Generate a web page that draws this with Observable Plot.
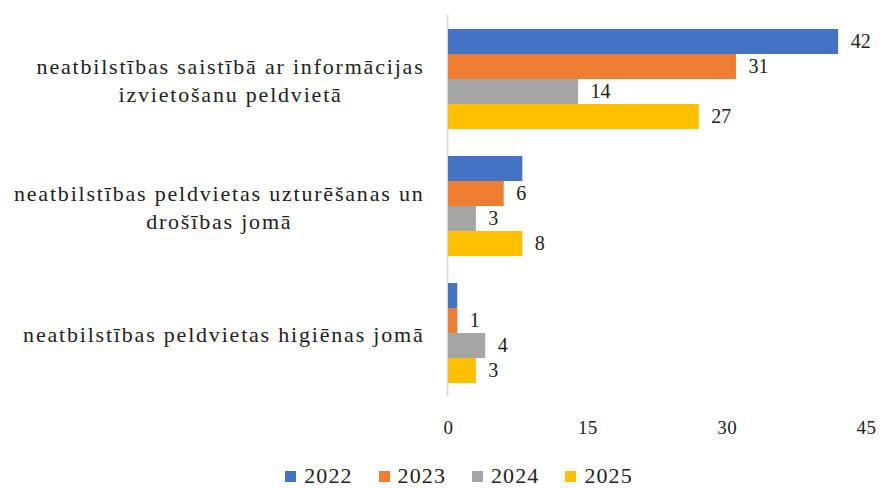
<!DOCTYPE html>
<html><head><meta charset="utf-8">
<script src="https://cdn.jsdelivr.net/npm/d3@7"></script>
<script src="https://cdn.jsdelivr.net/npm/@observablehq/plot@0.6"></script>
<style>
html,body{margin:0;background:#fff;overflow:hidden;font-family:"Liberation Serif","Times New Roman",serif;}
#chart{width:880px;}
#chart svg text, #chart svg tspan{font-family:"Liberation Serif","Times New Roman",serif !important;}
#legend{width:880px;box-sizing:border-box;padding-left:38px;margin-top:18px;height:36px;display:flex;justify-content:center;align-items:center;column-gap:26px;font-size:22px;color:#222;letter-spacing:1.1px;line-height:20px;}
#legend .item{display:flex;align-items:center;white-space:nowrap;line-height:20px;}
#legend .sw{display:inline-block;width:11px;height:11px;margin-right:8px;}
g[aria-label="fy-axis tick label"]{letter-spacing:1.8px;}
g[aria-label="x-axis tick label"]{letter-spacing:0.4px;}
</style></head><body><div id="chart"></div><div id="legend"></div>
<script>
const categories = [
  "neatbilstības saistībā ar informācijas izvietošanu peldvietā",
  "neatbilstības peldvietas uzturēšanas un drošības jomā",
  "neatbilstības peldvietas higiēnas jomā"
];
const categoryLabels = [
  "neatbilstības saistībā ar informācijas\nizvietošanu peldvietā",
  "neatbilstības peldvietas uzturēšanas un\ndrošības jomā",
  "neatbilstības peldvietas higiēnas jomā"
];
const years = ["2022", "2023", "2024", "2025"];
const values2022 = [42, 8, 1];
const values2023 = [31, 6, 1];
const values2024 = [14, 3, 4];
const values2025 = [27, 8, 3];
const colors = ["#4472C4", "#ED7D31", "#A5A5A5", "#FFC000"];
const xTicks = [0, 15, 30, 45];
// data labels not shown in the reference
const unlabeled = [["2022", categories[1]], ["2022", categories[2]]];

const series = [values2022, values2023, values2024, values2025];
const data = categories.flatMap((c, i) => years.map((y, j) => ({category: c, year: y, value: series[j][i]})));
const labelData = data.filter(d => !unlabeled.some(([y, c]) => y === d.year && c === d.category));
const FONT = "Liberation Serif";

const plot = Plot.plot({
  width: 880, height: 440,
  marginTop: 14, marginBottom: 44, marginLeft: 448, marginRight: 14,
  style: {fontFamily: FONT, background: "#fff", color: "#222"},
  x: {domain: [0, 45]},
  y: {domain: years, axis: null, paddingInner: 0, paddingOuter: 0.45},
  fy: {domain: categories, padding: 0},
  color: {domain: years, range: colors},
  marks: [
    Plot.ruleX([0], {stroke: "#d9d9d9", strokeWidth: 2, dx: -1}),
    Plot.barX(data, {x: "value", y: "year", fy: "category", fill: "year"}),
    Plot.text(labelData, {x: "value", y: "year", fy: "category", text: d => String(d.value), textAnchor: "start", dx: 12, fontSize: 20, fontFamily: FONT, fill: "#222"}),
    Plot.axisX({ticks: xTicks, tickSize: 0, tickPadding: 24, fontSize: 19, fontFamily: FONT, label: null, fill: "#222"}),
    Plot.axisFy({anchor: "left", tickSize: 0, tickPadding: 24, fontSize: 22, fontFamily: FONT, lineHeight: 1.25, label: null, fill: "#222",
      tickFormat: d => categoryLabels[categories.indexOf(d)]})
  ]
});

document.getElementById("chart").appendChild(plot);

// legend built from the same color scale
const color = plot.scale("color");
const lg = d3.select("#legend");
const items = lg.selectAll(".item").data(color.domain).join("div").attr("class", "item");
items.append("span").attr("class", "sw").style("background", d => color.apply(d));
items.append("span").text(d => d);

// center wrapped lines within each category label block (as in the reference)
plot.querySelectorAll('g[aria-label="fy-axis tick label"] text').forEach(t => {
  const spans = t.querySelectorAll("tspan");
  if (spans.length < 2) return;
  const w = Math.max(...Array.from(spans, s => s.getComputedTextLength()));
  t.setAttribute("text-anchor", "middle");
  spans.forEach(s => s.setAttribute("x", -w / 2));
});
</script></body></html>
